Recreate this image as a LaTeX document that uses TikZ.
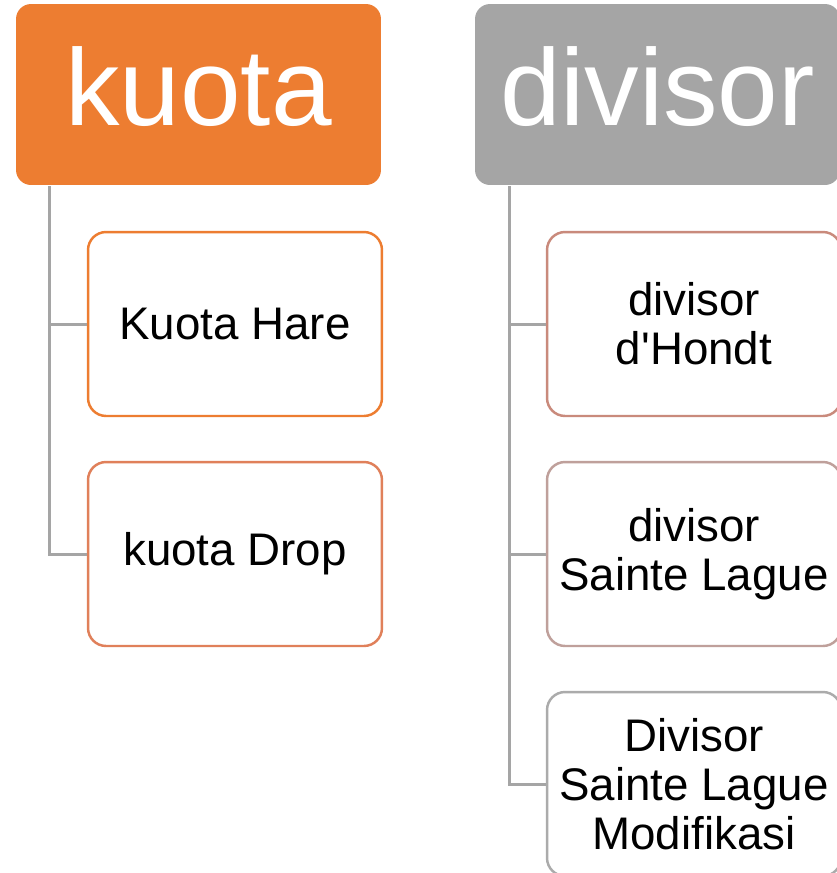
\documentclass[tikz,border=0pt]{standalone}
\usepackage{fontspec}
\setmainfont{Liberation Sans}
\usepackage[dvipsnames]{xcolor}

\definecolor{oranye}{HTML}{ED7D31}
\definecolor{abu}{HTML}{A5A5A5}
\definecolor{dropline}{HTML}{E0805A}
\definecolor{hondtline}{HTML}{C98A7C}
\definecolor{sainteline}{HTML}{BFA09B}
\definecolor{modifline}{HTML}{ABABAB}

\begin{document}
\begin{tikzpicture}[x=0.02cm,y=-0.02cm,line width=1.4pt,head node/.style={rounded corners=0.3cm,minimum width=7.3cm,minimum height=3.62cm,text=white,inner sep=0pt,text depth=0.34cm,font=\fontsize{62pt}{64pt}\selectfont},sub node/.style={rounded corners=0.36cm,draw,fill=white,minimum width=5.88cm,minimum height=3.68cm,inner sep=0pt,align=center,font=\fontsize{26pt}{28pt}\selectfont},link/.style={draw=abu,line width=1.7pt}]
                \useasboundingbox (0,0) rectangle (836,873);

                \node[head node,fill=oranye] (kuota) at (198.5,94.5) {kuota};
                \node[head node,fill=abu] (divisor) at (657.5,94.5) {divisor};

                \node[sub node,draw=oranye] (hare) at (235,324) {Kuota Hare};
                \node[sub node,draw=dropline] (drop) at (235,554) {kuota Drop};
                \node[sub node,draw=hondtline] (hondt) at (694,324) {divisor\\d\textquotesingle Hondt};
                \node[sub node,draw=sainteline] (sainte) at (694,554) {divisor\\Sainte Lague};
                \node[sub node,draw=modifline] (modif) at (694,784) {Divisor\\Sainte Lague\\Modifikasi};

                \coordinate (kt) at ([xshift=0.7cm]kuota.south west);
                \coordinate (dv) at ([xshift=0.72cm]divisor.south west);

                \draw[link] (kt) |- (hare.west);
                \draw[link] (kt) |- (drop.west);
                \draw[link] (dv) |- (hondt.west);
                \draw[link] (dv) |- (sainte.west);
                \draw[link] (dv) |- (modif.west);
            \end{tikzpicture}
\end{document}
